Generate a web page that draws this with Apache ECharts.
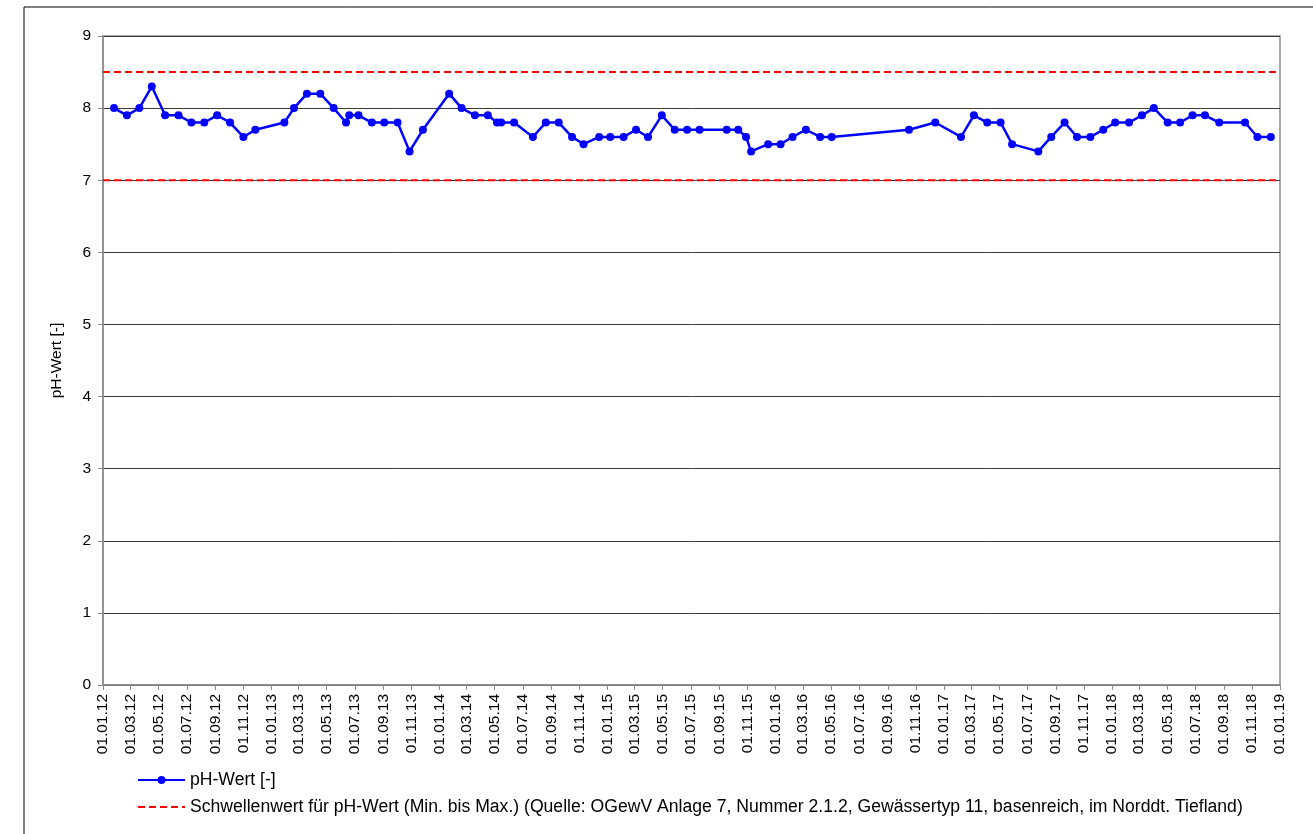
<!DOCTYPE html>
<html lang="de">
<head>
  <meta http-equiv="Content-Type" content="text/html; charset=UTF-8">
  <title>pH-Wert</title>
  <style>
    html, body {
      padding: 0;
      margin: 0;
      background: #fff;
    }
    #myChart {
      width: 1313px;
      height: 834px;
    }
  </style>
</head>
<body>
  <div id="myChart"></div>
  <script src="https://cdn.jsdelivr.net/npm/echarts@6/dist/echarts.min.js"></script>
  <script>
    // Messtermine und pH-Werte
    const sampleDates = [
      '2012-01-25', '2012-02-22', '2012-03-20', '2012-04-16', '2012-05-15', '2012-06-13',
      '2012-07-11', '2012-08-08', '2012-09-05', '2012-10-03', '2012-11-01', '2012-11-27',
      '2013-01-29', '2013-02-19', '2013-03-19', '2013-04-17', '2013-05-16', '2013-06-12',
      '2013-06-19', '2013-07-09', '2013-08-07', '2013-09-03', '2013-10-02', '2013-10-28',
      '2013-11-26', '2014-01-22', '2014-02-18', '2014-03-19', '2014-04-16', '2014-05-06',
      '2014-05-15', '2014-06-12', '2014-07-23', '2014-08-20', '2014-09-17', '2014-10-16',
      '2014-11-10', '2014-12-14', '2015-01-07', '2015-02-05', '2015-03-04', '2015-03-30',
      '2015-04-29', '2015-05-27', '2015-06-23', '2015-07-20', '2015-09-17', '2015-10-12',
      '2015-10-29', '2015-11-09', '2015-12-16', '2016-01-12', '2016-02-07', '2016-03-07',
      '2016-04-07', '2016-05-02', '2016-10-17', '2016-12-13', '2017-02-07', '2017-03-07',
      '2017-04-05', '2017-05-04', '2017-05-29', '2017-07-25', '2017-08-22', '2017-09-20',
      '2017-10-17', '2017-11-15', '2017-12-13', '2018-01-08', '2018-02-07', '2018-03-07',
      '2018-04-02', '2018-05-02', '2018-05-29', '2018-06-25', '2018-07-22', '2018-08-22',
      '2018-10-17', '2018-11-13', '2018-12-12'
    ];
    const phValues = [
      8.0, 7.9, 8.0, 8.3, 7.9, 7.9,
      7.8, 7.8, 7.9, 7.8, 7.6, 7.7,
      7.8, 8.0, 8.2, 8.2, 8.0, 7.8,
      7.9, 7.9, 7.8, 7.8, 7.8, 7.4,
      7.7, 8.2, 8.0, 7.9, 7.9, 7.8,
      7.8, 7.8, 7.6, 7.8, 7.8, 7.6,
      7.5, 7.6, 7.6, 7.6, 7.7, 7.6,
      7.9, 7.7, 7.7, 7.7, 7.7, 7.7,
      7.6, 7.4, 7.5, 7.5, 7.6, 7.7,
      7.6, 7.6, 7.7, 7.8, 7.6, 7.9,
      7.8, 7.8, 7.5, 7.4, 7.6, 7.8,
      7.6, 7.6, 7.7, 7.8, 7.8, 7.9,
      8.0, 7.8, 7.8, 7.9, 7.9, 7.8,
      7.8, 7.6, 7.6
    ];
    const thresholdMin = 7.0;
    const thresholdMax = 8.5;
    const yTicks = [0, 1, 2, 3, 4, 5, 6, 7, 8, 9];

    const nameMain = 'pH-Wert [-]';
    const nameLimit = 'Schwellenwert für pH-Wert (Min. bis Max.) (Quelle: OGewV Anlage 7, Nummer 2.1.2, Gewässertyp 11, basenreich, im Norddt. Tiefland)';

    const toTime = s => {
      const p = s.split('-');
      return new Date(+p[0], +p[1] - 1, +p[2]).getTime();
    };
    const axisStart = toTime('2012-01-01');
    const axisEnd = toTime('2019-01-01');

    // Achsenmarken alle 2 Monate
    const monthTicks = [];
    for (let m = 0; m <= 84; m += 2) {
      monthTicks.push(new Date(2012, m, 1).getTime());
    }
    const pad = n => (n < 10 ? '0' : '') + n;
    const fmtDate = v => {
      const d = new Date(v);
      return pad(d.getDate()) + '.' + pad(d.getMonth() + 1) + '.' + pad(d.getFullYear() % 100);
    };

    const phData = sampleDates.map((d, i) => [toTime(d), phValues[i]]);
    const limitData = [
      [axisStart, thresholdMax], [axisEnd, thresholdMax], [axisEnd, '-'],
      [axisStart, thresholdMin], [axisEnd, thresholdMin]
    ];

    const font = 'Liberation Sans, Arial, sans-serif';
    const myChart = echarts.init(document.getElementById('myChart'));
    const option = {
      backgroundColor: '#fff',
      animation: false,
      textStyle: { fontFamily: font },
      graphic: [{
        type: 'rect',
        shape: { x: 24, y: 7, width: 1310, height: 840 },
        style: { fill: 'none', stroke: '#000', lineWidth: 1 },
        silent: true
      }],
      grid: {
        left: 103,
        right: 33,
        top: 36,
        bottom: 149,
        show: true,
        borderColor: '#8c8c8c',
        borderWidth: 1.5
      },
      legend: {
        orient: 'vertical',
        left: 132,
        top: 766,
        itemWidth: 47,
        itemHeight: 10,
        itemGap: 9,
        textStyle: { fontFamily: font, fontSize: 17.6, color: '#000' },
        data: [
          nameMain,
          { name: nameLimit, itemStyle: { opacity: 0 } }
        ]
      },
      xAxis: {
        type: 'value',
        min: axisStart,
        max: axisEnd,
        axisLine: { lineStyle: { color: '#8c8c8c', width: 1.5 } },
        axisTick: { show: true, length: 5, lineStyle: { color: '#8c8c8c' }, customValues: monthTicks },
        axisLabel: {
          rotate: 90,
          margin: 9,
          fontSize: 15.5,
          color: '#000',
          fontFamily: font,
          customValues: monthTicks,
          formatter: fmtDate,
          hideOverlap: false
        },
        splitLine: { show: false }
      },
      yAxis: {
        type: 'value',
        min: yTicks[0],
        max: yTicks[yTicks.length - 1],
        interval: 1,
        name: 'pH-Wert [-]',
        nameLocation: 'middle',
        nameGap: 38,
        nameTextStyle: { fontSize: 15.5, color: '#000', fontFamily: font },
        axisLine: { show: true, lineStyle: { color: '#8c8c8c', width: 1.5 } },
        axisTick: { show: true, length: 5, lineStyle: { color: '#8c8c8c' } },
        axisLabel: { fontSize: 15.5, color: '#000', margin: 12, fontFamily: font },
        splitLine: { lineStyle: { color: '#3c3c3c', width: 1 } }
      },
      series: [{
        name: nameMain,
        type: 'line',
        data: phData,
        symbol: 'circle',
        symbolSize: 8,
        itemStyle: { color: '#0000ff' },
        lineStyle: { color: '#0000ff', width: 2.5 },
        z: 3
      }, {
        name: nameLimit,
        type: 'line',
        data: limitData,
        symbol: 'none',
        connectNulls: false,
        itemStyle: { color: '#ff0000' },
        lineStyle: { color: '#ff0000', width: 2, type: [7, 4] },
        z: 2
      }]
    };
    myChart.setOption(option);
  </script>
</body>
</html>
